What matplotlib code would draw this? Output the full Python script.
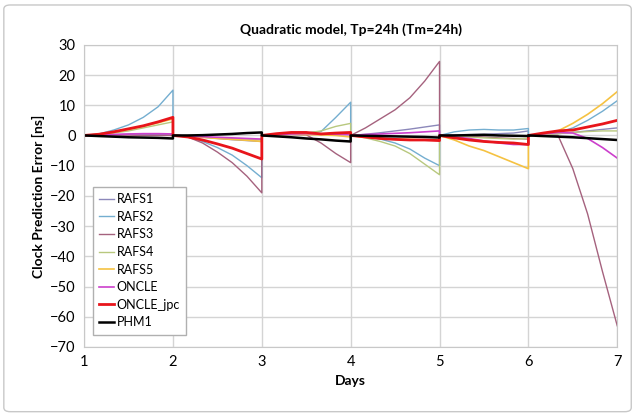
import numpy as np
import matplotlib.pyplot as plt
from matplotlib.patches import FancyBboxPatch

plt.rcParams['font.family'] = ['Lato', 'DejaVu Sans']

# error at 4h steps inside each day (day start is always 0), days 1..6
rafs1 = [0.1, 0.3, 0.4, 0.4, 0.3, 0.2,
         -0.3, -0.6, -1.0, -1.4, -1.7, -2.0,
         0.2, 0.4, 0.5, 0.6, 0.4, 0.3,
         0.4, 0.9, 1.5, 2.1, 2.8, 3.5,
         0.2, 0.3, 0.4, 0.6, 0.8, 1.5,
         0.3, 0.6, 1.0, 1.5, 2.0, 2.5]
rafs2 = [0.5, 1.8, 3.5, 6.0, 9.5, 15.0,
         -0.5, -2.0, -4.0, -6.5, -10.0, -14.0,
         0.3, 0.6, 0.8, 1.3, 6.0, 11.0,
         -0.5, -1.2, -2.5, -4.5, -7.5, -10.0,
         1.2, 1.8, 2.0, 1.8, 1.8, 2.3,
         0.3, 1.0, 2.5, 5.0, 8.0, 11.5]
rafs3 = [0.0, 0.1, 0.1, 0.0, 0.0, 0.0,
         -0.5, -2.5, -5.5, -9.0, -13.5, -19.0,
         0.2, 0.3, 0.2, -2.5, -6.0, -9.0,
         2.5, 5.5, 8.5, 12.5, 18.0, 24.5,
         0.0, -0.3, -0.5, -0.8, -1.0, -1.2,
         0.2, 0.0, -11.0, -26.0, -45.0, -63.0]
rafs4 = [0.3, 0.8, 1.5, 2.5, 3.5, 4.5,
         -0.2, -0.5, -0.8, -1.0, -1.2, -1.5,
         0.3, 0.6, 0.8, 1.5, 3.0, 4.0,
         -0.8, -2.0, -3.5, -6.0, -9.5, -13.0,
         -0.3, -0.5, -0.8, -1.0, -1.2, -1.0,
         0.3, 0.6, 1.0, 1.3, 1.5, 1.5]
rafs5 = [0.4, 1.0, 2.0, 3.0, 4.2, 5.5,
         -0.3, -0.6, -1.0, -1.3, -1.6, -2.0,
         0.2, 0.4, 0.3, 0.2, 0.0, -0.5,
         -0.5, -1.0, -1.2, -1.3, -1.5, -1.5,
         -1.5, -3.5, -5.0, -7.0, -9.0, -11.0,
         0.5, 1.5, 4.0, 7.0, 10.5, 14.5]
oncle = [0.1, 0.3, 0.5, 0.6, 0.6, 0.5,
         -0.2, -0.4, -0.6, -0.8, -1.0, -1.2,
         0.3, 0.5, 0.6, 0.5, 0.4, 0.3,
         0.3, 0.5, 0.7, 0.9, 1.2, 1.5,
         -0.5, -1.0, -1.8, -2.5, -3.0, -3.0,
         0.5, 1.0, 0.8, -1.0, -4.0, -7.5]
oncle_jpc = [0.4, 1.2, 2.2, 3.2, 4.5, 6.0,
             -0.5, -1.5, -2.8, -4.2, -6.0, -7.8,
             0.6, 1.0, 1.0, 0.5, 0.8, 1.0,
             -0.5, -1.0, -1.3, -1.5, -1.5, -1.7,
             -0.8, -1.5, -2.0, -2.3, -2.5, -3.0,
             0.8, 1.5, 1.8, 2.8, 3.8, 5.0]
phm1 = [-0.2, -0.4, -0.6, -0.7, -0.8, -1.0,
        0.0, 0.1, 0.3, 0.5, 0.8, 1.0,
        -0.3, -0.6, -1.0, -1.3, -1.7, -2.0,
        -0.1, -0.2, -0.3, -0.4, -0.5, -0.7,
        0.0, 0.1, 0.2, 0.0, -0.1, -0.2,
        -0.2, -0.4, -0.6, -0.9, -1.2, -1.5]

days = [1, 2, 3, 4, 5, 6]
steps = 6

series = [
    ("RAFS1", rafs1, "#8C88BA", 1.0),
    ("RAFS2", rafs2, "#74AED0", 1.0),
    ("RAFS3", rafs3, "#A5627E", 1.0),
    ("RAFS4", rafs4, "#B8C87E", 1.0),
    ("RAFS5", rafs5, "#F5C242", 1.2),
    ("ONCLE", oncle, "#CC3FCC", 1.2),
    ("ONCLE_jpc", oncle_jpc, "#E8151B", 2.0),
    ("PHM1", phm1, "#000000", 1.8),
]


def build(vals):
    # each day restarts from zero, joined to the previous day's end
    xs, ys = [], []
    for i, d in enumerate(days):
        xs += list(d + np.arange(steps + 1) / steps)
        ys += [0.0] + list(vals[i * steps:(i + 1) * steps])
    return xs, ys


fig = plt.figure(figsize=(6.37, 4.15), dpi=100)
ax = fig.add_axes([0.132, 0.164, 0.837, 0.728])

for name, vals, color, lw in series:
    x, y = build(vals)
    ax.plot(x, y, color=color, lw=lw, label=name)

ax.set_xlim(1, 7)
ax.set_ylim(-70, 30)
ax.set_xticks(range(1, 8))
ax.set_yticks(range(-70, 31, 10))
ax.grid(color="#d4d4d4", lw=1)
ax.set_axisbelow(True)
for s in ax.spines.values():
    s.set_color("#c8c8c8")
ax.tick_params(length=0, labelsize=10.5, pad=6)

ax.set_title("Quadratic model, Tp=24h (Tm=24h)", fontsize=10, fontweight="bold", pad=8)
ax.set_xlabel("Days", fontsize=10, fontweight="bold")
ax.set_ylabel("Clock Prediction Error [ns]", fontsize=10, fontweight="bold")

leg = ax.legend(loc="lower left", bbox_to_anchor=(0.005, 0.02), fontsize=9,
                handlelength=1.2, handletextpad=0.2, labelspacing=0.45,
                fancybox=False, borderpad=0.5, framealpha=1)
leg.get_frame().set_edgecolor("#b0b0b0")

fig.patches.append(FancyBboxPatch((0.006, 0.008), 0.985, 0.98,
                                  boxstyle="round,pad=0,rounding_size=0.01",
                                  transform=fig.transFigure, fill=False,
                                  edgecolor="#c8c8c8", lw=1))

fig.savefig("out.png", dpi=100)
